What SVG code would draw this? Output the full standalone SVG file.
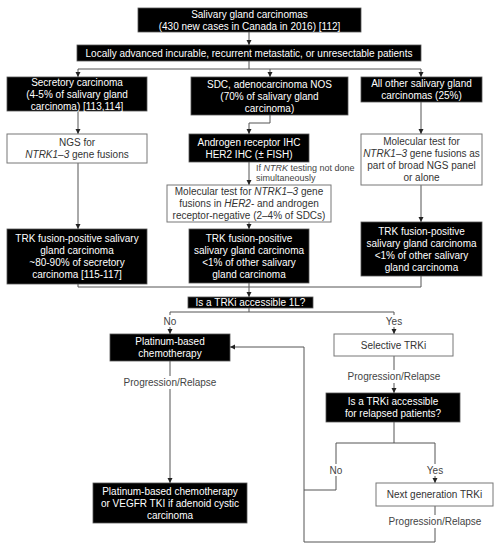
<svg xmlns="http://www.w3.org/2000/svg" width="498" height="550" viewBox="0 0 498 550">
<defs>
<marker id="ah" markerWidth="6" markerHeight="6" refX="5" refY="3" orient="auto" markerUnits="userSpaceOnUse">
<path d="M0,0.5 L5,3 L0,5.5 Z" fill="#222"/>
</marker>
<style>
text{font-family:"Liberation Sans",Arial,sans-serif;font-size:10px;text-anchor:middle}
.blk rect{fill:#000;stroke:#555;stroke-width:0.8}
.blk text{fill:#fff}
.wht rect{fill:#fff;stroke:#777;stroke-width:1}
.wht text{fill:#333}
.ln{fill:none;stroke:#555;stroke-width:1}
.arr{marker-end:url(#ah)}
.lbl{fill:#444}
.lbg{fill:#fff;stroke:none}
.it{font-style:italic}
</style>
</defs>
<rect width="498" height="550" fill="#fff"/>

<g id="connectors">
<path class="ln arr" d="M249,32 V45"/>
<path class="ln" d="M249,61 V69 M78,69 H421"/>
<path class="ln arr" d="M78,69 V77"/>
<path class="ln arr" d="M270,69 V77"/>
<path class="ln arr" d="M421,69 V77"/>
<path class="ln arr" d="M78,111 V134"/>
<path class="ln arr" d="M78,163 V229"/>
<path class="ln arr" d="M270,115 V123 H249 V134"/>
<path class="ln arr" d="M249,162 V185"/>
<path class="ln arr" d="M249,222 V229"/>
<path class="ln arr" d="M421,102 V134"/>
<path class="ln arr" d="M421,185 V222"/>
<path class="ln" d="M78,284 V287 H421 V276"/>
<path class="ln arr" d="M249,283 V297"/>
<path class="ln" d="M249,308 V312 M170,312 H394"/>
<path class="ln arr" d="M170,312 V334"/>
<path class="ln arr" d="M394,312 V334"/>
<path class="ln arr" d="M170,361 V483"/>
<path class="ln arr" d="M394,356 V393"/>
<path class="ln" d="M394,422 V443 M336,443 H435 M336,443 V490 H304"/>
<path class="ln arr" d="M435,443 V483"/>
<path class="ln arr" d="M435,506 V542 H304 V347 H230"/>
<rect class="lbg" x="161" y="315" width="18" height="12"/>
<text class="lbl" x="170" y="325">No</text>
<rect class="lbg" x="384" y="315" width="20" height="12"/>
<text class="lbl" x="394" y="325">Yes</text>
<rect class="lbg" x="122" y="376" width="96" height="13"/>
<text class="lbl" x="170" y="386">Progression/Relapse</text>
<rect class="lbg" x="346" y="370" width="96" height="13"/>
<text class="lbl" x="394" y="380">Progression/Relapse</text>
<rect class="lbg" x="327" y="464" width="18" height="12"/>
<text class="lbl" x="336" y="474">No</text>
<rect class="lbg" x="425" y="464" width="20" height="12"/>
<text class="lbl" x="435" y="474">Yes</text>
<rect class="lbg" x="387" y="515" width="96" height="13"/>
<text class="lbl" x="435" y="525">Progression/Relapse</text>
<text class="lbl" x="256" y="171" style="font-size:9px;text-anchor:start">If <tspan class="it">NTRK</tspan> testing not done</text>
<text class="lbl" x="256" y="181" style="font-size:9px;text-anchor:start">simultaneously</text>
</g>

<g id="n1" class="blk"><rect x="138" y="8" width="223" height="24"/>
<text x="249.5" y="18">Salivary gland carcinomas</text>
<text x="249.5" y="29.5">(430 new cases in Canada in 2016) [112]</text></g>

<g id="n2" class="blk"><rect x="77" y="45" width="344" height="16"/>
<text x="249" y="56.5">Locally advanced incurable, recurrent metastatic, or unresectable patients</text></g>

<g id="n3a" class="blk"><rect x="7" y="77" width="140" height="34"/>
<text x="77" y="85.5">Secretory carcinoma</text>
<text x="77" y="97.5">(4-5% of salivary gland</text>
<text x="77" y="109.5">carcinoma) [113,114]</text></g>

<g id="n3b" class="blk"><rect x="191" y="77" width="157" height="38"/>
<text x="269.5" y="87.5">SDC, adenocarcinoma NOS</text>
<text x="269.5" y="99.5">(70% of salivary gland</text>
<text x="269.5" y="111.5">carcinoma)</text></g>

<g id="n3c" class="blk"><rect x="361" y="77" width="121" height="25"/>
<text x="421.5" y="87">All other salivary gland</text>
<text x="421.5" y="99">carcinomas (25%)</text></g>

<g id="n4a" class="wht"><rect x="7" y="134" width="140" height="29"/>
<text x="77" y="146">NGS for</text>
<text x="77" y="158"><tspan class="it">NTRK1–3</tspan> gene fusions</text></g>

<g id="n4b" class="blk"><rect x="189" y="134" width="120" height="28"/>
<text x="249" y="145.5">Androgen receptor IHC</text>
<text x="249" y="157.5">HER2 IHC (± FISH)</text></g>

<g id="n5b" class="wht"><rect x="167" y="185" width="164" height="37"/>
<text x="249" y="195">Molecular test for <tspan class="it">NTRK1–3</tspan> gene</text>
<text x="249" y="207">fusions in <tspan class="it">HER2</tspan>- and androgen</text>
<text x="249" y="219">receptor-negative (2–4% of SDCs)</text></g>

<g id="n4c" class="wht"><rect x="361" y="134" width="121" height="51"/>
<text x="421.5" y="145">Molecular test for</text>
<text x="421.5" y="157"><tspan class="it">NTRK1–3</tspan> gene fusions as</text>
<text x="421.5" y="169">part of broad NGS panel</text>
<text x="421.5" y="181">or alone</text></g>

<g id="n5a" class="blk"><rect x="7" y="229" width="140" height="55"/>
<text x="77" y="241.5">TRK fusion-positive salivary</text>
<text x="77" y="253.5">gland carcinoma</text>
<text x="77" y="265.5">~80-90% of secretory</text>
<text x="77" y="277.5">carcinoma [115-117]</text></g>

<g id="n6b" class="blk"><rect x="189" y="229" width="120" height="54"/>
<text x="249" y="241.5">TRK fusion-positive</text>
<text x="249" y="253.5">salivary gland carcinoma</text>
<text x="249" y="265.5">&lt;1% of other salivary</text>
<text x="249" y="277.5">gland carcinoma</text></g>

<g id="n5c" class="blk"><rect x="361" y="222" width="121" height="54"/>
<text x="421.5" y="234.5">TRK fusion-positive</text>
<text x="421.5" y="246.5">salivary gland carcinoma</text>
<text x="421.5" y="258.5">&lt;1% of other salivary</text>
<text x="421.5" y="270.5">gland carcinoma</text></g>

<g id="n7" class="blk"><rect x="188" y="297" width="125" height="11"/>
<text x="250.5" y="306">Is a TRKi accessible 1L?</text></g>

<g id="n8a" class="blk"><rect x="110" y="334" width="120" height="27"/>
<text x="170" y="345">Platinum-based</text>
<text x="170" y="357">chemotherapy</text></g>

<g id="n9a" class="wht"><rect x="334" y="334" width="119" height="22"/>
<text x="393.5" y="348.5">Selective TRKi</text></g>

<g id="n9b" class="blk"><rect x="326" y="393" width="134" height="29"/>
<text x="393" y="405">Is a TRKi accessible</text>
<text x="393" y="417">for relapsed patients?</text></g>

<g id="n10a" class="blk"><rect x="93" y="483" width="154" height="40"/>
<text x="170" y="494.5">Platinum-based chemotherapy</text>
<text x="170" y="506.5">or VEGFR TKI if adenoid cystic</text>
<text x="170" y="518.5">carcinoma</text></g>

<g id="n10b" class="wht"><rect x="376" y="483" width="117" height="23"/>
<text x="434.5" y="498">Next generation TRKi</text></g>
</svg>
